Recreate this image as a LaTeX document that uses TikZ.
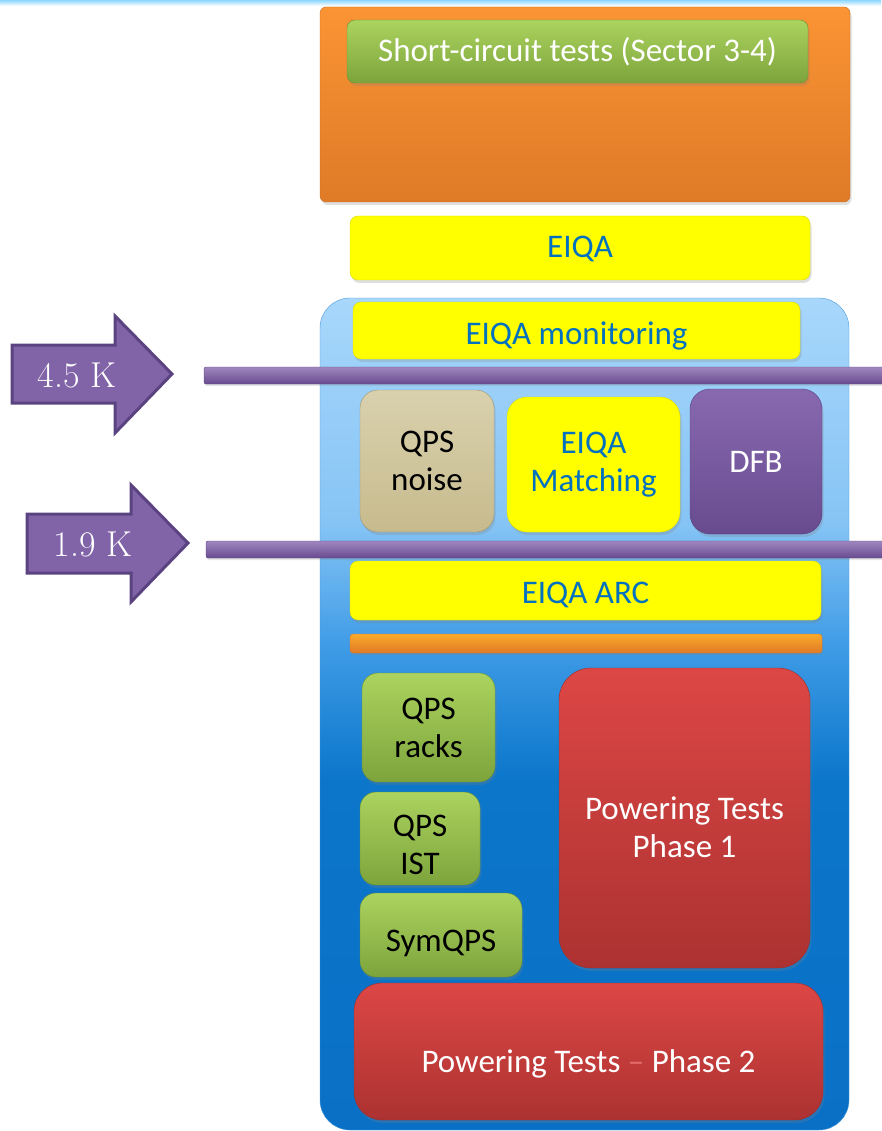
\documentclass[tikz,border=0pt]{standalone}
\usepackage{fontspec}
\newfontfamily\boxfont{Carlito}
\usetikzlibrary{shadows}
\usetikzlibrary{positioning}
\definecolor{eiqablue}{HTML}{0070C0}
\definecolor{yel}{HTML}{FFFF00}
\definecolor{grtop}{HTML}{ABD35E}
\definecolor{grbot}{HTML}{7DA43C}
\definecolor{grline}{HTML}{6A9033}
\definecolor{redtop}{HTML}{DC4745}
\definecolor{redbot}{HTML}{AC3231}
\definecolor{tantop}{HTML}{D9D1AE}
\definecolor{tanbot}{HTML}{C7BB8D}
\definecolor{purtop}{HTML}{8869B0}
\definecolor{purbot}{HTML}{684B8F}
\definecolor{purline}{HTML}{5A4380}
\definecolor{ortop}{HTML}{FA9434}
\definecolor{orbot}{HTML}{DF7A27}
\definecolor{bltop}{HTML}{A8D7FB}
\definecolor{bllight}{HTML}{86C4F5}
\definecolor{blmid}{HTML}{3E9BE6}
\definecolor{bldeep}{HTML}{0B76CA}
\definecolor{blbot}{HTML}{0A70C6}
\pgfdeclareverticalshading{coldpart}{100bp}{color(0bp)=(blbot); color(25bp)=(blbot);
  color(46bp)=(bldeep); color(54bp)=(blmid); color(61.5bp)=(bllight);
  color(75bp)=(bltop); color(100bp)=(bltop)}

\tikzset{
  box/.style={rounded corners=8pt, inner sep=0pt,
              font=\boxfont\fontsize{33}{38}\selectfont,
              drop shadow={opacity=0.25, shadow xshift=1.5pt, shadow yshift=-3pt}},
  ybox/.style={box, fill=yel, draw=yel!85!black, text=eiqablue},
  gbox/.style={box, rounded corners=16pt, top color=grtop, bottom color=grbot, draw=grline},
  rbox/.style={box, rounded corners=32pt, top color=redtop, bottom color=redbot, draw=redbot!90!black, text=white},
  karrow/.style={fill=purtop!95!black, draw=purline, line width=3pt, line join=miter},
  ktext/.style={text=white, font=\fontsize{36}{40}\selectfont},
  kbar/.style={top color=purtop!80!white, bottom color=purbot, draw=purline, rounded corners=2pt,
               drop shadow={opacity=0.2, shadow xshift=1pt, shadow yshift=-2pt}}
}

\begin{document}
\begin{tikzpicture}[x=1pt,y=-1pt]
  \useasboundingbox (0,0) rectangle (881,1131);
  \fill[top color=blue!35!cyan!45, bottom color=white] (0,0) rectangle (881,6);

  % short-circuit block
  \draw[top color=ortop, bottom color=orbot, draw=orbot!90!black, rounded corners=6pt,
        drop shadow={opacity=0.25, shadow xshift=1.5pt, shadow yshift=-3pt}]
    (320,7) rectangle (850,202);
  \node[gbox, rounded corners=8pt, text=white, minimum width=461pt, minimum height=63pt,
        text height=27pt, text depth=7pt] (sct) at (577.5,51.5) {Short-circuit tests (Sector 3-4)};

  \node[ybox, minimum width=460pt, minimum height=64pt, text height=27pt, text depth=7pt]
    (eiqa) at (580,248) {EIQA};

  % cold part
  \draw[shading=coldpart, draw=blbot!60!bltop, rounded corners=30pt] (320,298) rectangle (849,1130);

  \node[ybox, minimum width=447pt, minimum height=57pt, text height=34pt, text depth=7pt]
    (mon) at (576.5,330.5) {EIQA monitoring};

  \node[box, align=center, rounded corners=18pt, top color=tantop, bottom color=tanbot,
        draw=tanbot!80!black, minimum width=134pt, minimum height=142pt]
    (noise) at (427,461) {QPS\\noise};
  \node[ybox, align=center, rounded corners=20pt, minimum width=173pt, minimum height=135pt]
    (match) at (593.5,464.5) {EIQA\\Matching};
  \node[box, rounded corners=20pt, top color=purtop, bottom color=purbot, draw=purline, text=white,
        minimum width=132pt, minimum height=145pt] (dfb) at (756,461.5) {DFB};

  \node[ybox, minimum width=471pt, minimum height=59pt, text height=32pt, text depth=7pt]
    (arc) at (585.5,590.5) {EIQA ARC};
  \draw[top color=ortop!80!yellow, bottom color=orbot, draw=orbot, rounded corners=3pt,
        drop shadow={opacity=0.25, shadow xshift=1pt, shadow yshift=-2pt}]
    (350,634) rectangle (822,653);

  \node[gbox, align=center, minimum width=133pt, minimum height=109pt]
    (racks) at (428.5,727.5) {QPS\\racks};
  \node[gbox, align=center, minimum width=120pt, minimum height=93pt]
    (ist) at (420,838.5) {\rule{0pt}{34pt}QPS\\IST};
  \node[gbox, minimum width=162pt, minimum height=84pt, text height=40pt, text depth=7pt]
    (sym) at (441,935) {SymQPS};

  \node[rbox, align=center, minimum width=251pt, minimum height=300pt]
    (ph1) at (684.5,818) {\rule{0pt}{42pt}Powering Tests\\Phase 1};
  \node[rbox, rounded corners=28pt, minimum width=469pt, minimum height=137pt,
        text height=48pt, text depth=7pt]
    (ph2) at (588.5,1051.5) {Powering Tests \textcolor{redtop!80!white}{–} Phase 2};

  % temperature levels
  \draw[kbar] (204,367) rectangle (885,384);
  \draw[kbar] (206,541) rectangle (885,558);
  \draw[karrow] (12,345) -- (115,345) -- (115,316) -- (172,374)
    -- (115,433) -- (115,403) -- (12,403) -- cycle;
  \node[ktext] (k45) at (77,375) {4.5 K};
  \draw[karrow] (27,514) -- (131,514) -- (131,485) -- (188,543)
    -- (131,602) -- (131,573) -- (27,573) -- cycle;
  \node[ktext] (k19) at (93,544) {1.9 K};
\end{tikzpicture}
\end{document}
